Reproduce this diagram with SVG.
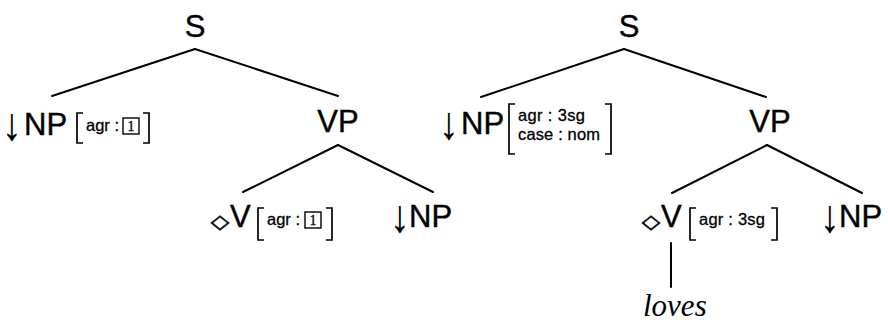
<svg xmlns="http://www.w3.org/2000/svg" width="888" height="327" viewBox="0 0 888 327">
<style>
.lab{font-family:"Liberation Sans","DejaVu Sans",sans-serif;font-size:31px;fill:#000;stroke:#000;stroke-width:0.4}
.arr{font-family:"Liberation Sans","DejaVu Sans",sans-serif;font-size:46px;fill:#000;stroke:#000;stroke-width:0.2;text-anchor:middle}
.dia{font-family:"DejaVu Sans",sans-serif;font-size:24px;fill:#000;stroke:#000;stroke-width:0.7;text-anchor:middle}
.feat{font-family:"Liberation Sans","DejaVu Sans",sans-serif;font-size:16.5px;fill:#000;stroke:#000;stroke-width:0.3}
.tag{font-family:"Liberation Serif",serif;font-size:14px;fill:#000;stroke:#000;stroke-width:0.3}
.box{fill:none;stroke:#000;stroke-width:1.4}
.br{fill:none;stroke:#000;stroke-width:1.7}
.edge{fill:none;stroke:#000;stroke-width:2;stroke-linecap:round}
.word{font-family:"Liberation Serif",serif;font-style:italic;font-size:31px;fill:#000}
</style>
<rect width="888" height="327" fill="#fff"/>
<g id="connectors">
<line class="edge" x1="195" y1="49" x2="52" y2="96"/>
<line class="edge" x1="195" y1="49" x2="338" y2="96"/>
<line class="edge" x1="338" y1="145" x2="243" y2="192"/>
<line class="edge" x1="338" y1="145" x2="433" y2="192"/>
<line class="edge" x1="624" y1="49" x2="481" y2="97"/>
<line class="edge" x1="624" y1="49" x2="766" y2="97"/>
<line class="edge" x1="767" y1="145" x2="672" y2="193"/>
<line class="edge" x1="767" y1="145" x2="862" y2="193"/>
<line class="edge" x1="671" y1="243" x2="671" y2="287"/>
</g>
<g id="left-S"><text class="lab" x="195" y="37" text-anchor="middle">S</text></g>
<g id="left-NP">
<text class="arr" transform="translate(12,140) scale(0.85,1)">↓</text>
<text class="lab" x="24" y="135">NP</text>
<path class="br" d="M83,113 H77 V143 H83"/>
<text class="feat" x="86" y="131">agr :</text>
<rect class="box" x="123" y="118" width="16" height="16"/>
<text class="tag" x="131" y="131" text-anchor="middle">1</text>
<path class="br" d="M143,113 H149 V143 H143"/>
</g>
<g id="left-VP"><text class="lab" x="338" y="132" text-anchor="middle">VP</text></g>
<g id="left-V">
<text class="dia" transform="translate(220,228) scale(1,0.8)">◇</text>
<text class="lab" x="230" y="227">V</text>
<path class="br" d="M264,208 H258 V240 H264"/>
<text class="feat" x="267" y="225">agr :</text>
<rect class="box" x="305" y="212" width="16" height="16"/>
<text class="tag" x="313" y="225" text-anchor="middle">1</text>
<path class="br" d="M326,208 H332 V240 H326"/>
</g>
<g id="left-NP2">
<text class="arr" transform="translate(400,232) scale(0.85,1)">↓</text>
<text class="lab" x="409" y="227">NP</text>
</g>
<g id="right-S"><text class="lab" x="629" y="37" text-anchor="middle">S</text></g>
<g id="right-NP">
<text class="arr" transform="translate(449,139) scale(0.85,1)">↓</text>
<text class="lab" x="461" y="134">NP</text>
<path class="br" d="M515,104 H509 V154 H515"/>
<text class="feat" x="518" y="121" textLength="67" lengthAdjust="spacing">agr : 3sg</text>
<text class="feat" x="518" y="140" textLength="82" lengthAdjust="spacing">case : nom</text>
<path class="br" d="M605,104 H611 V154 H605"/>
</g>
<g id="right-VP"><text class="lab" x="770" y="132" text-anchor="middle">VP</text></g>
<g id="right-V">
<text class="dia" transform="translate(651,228) scale(1,0.8)">◇</text>
<text class="lab" x="661" y="227">V</text>
<path class="br" d="M696,208 H690 V240 H696"/>
<text class="feat" x="699" y="225" textLength="66" lengthAdjust="spacing">agr : 3sg</text>
<path class="br" d="M771,208 H777 V240 H771"/>
</g>
<g id="right-NP2">
<text class="arr" transform="translate(830,232) scale(0.85,1)">↓</text>
<text class="lab" x="839" y="227">NP</text>
</g>
<g id="loves"><text class="word" x="643" y="316">loves</text></g>
</svg>
